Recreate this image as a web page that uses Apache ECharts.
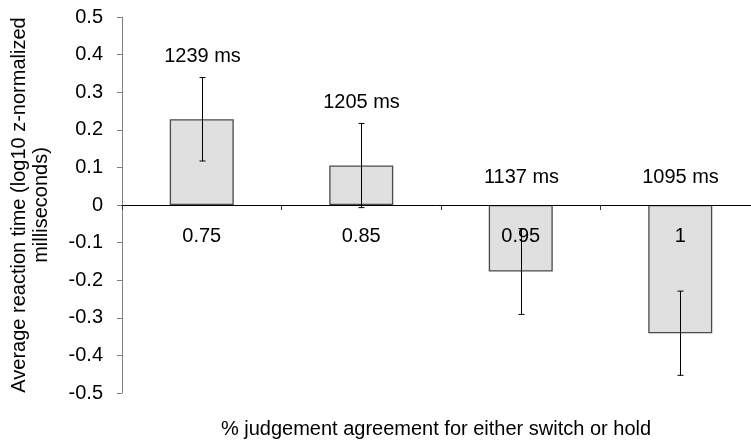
<!DOCTYPE html>
<html>
<head>
<meta charset="utf-8">
<script src="https://cdn.jsdelivr.net/npm/echarts@6/dist/echarts.min.js"></script>
<style>
html,body{margin:0;padding:0;background:#fff;}
#chart{width:751px;height:448px;}
</style>
</head>
<body>
<div id="chart"></div>
<script>
const categories = ['0.75', '0.85', '0.95', '1'];
const meanValues = [0.228, 0.105, -0.177, -0.341];
const errValues = [0.111, 0.112, 0.114, 0.112];
const msLabels = ['1239 ms', '1205 ms', '1137 ms', '1095 ms'];
const yAxisTitle = 'Average reaction time (log10 z-normalized\nmilliseconds)';
const xAxisTitle = '% judgement agreement for either switch or hold';

const FONT = '"Liberation Sans", Arial, sans-serif';
const FS = 20;

const chart = echarts.init(document.getElementById('chart'), null, {renderer: 'canvas'});

const errData = categories.map((c, i) => [i, meanValues[i], errValues[i]]);

const option = {
  animation: false,
  backgroundColor: '#fff',
  textStyle: {fontFamily: FONT},
  grid: {left: 122, right: -9, top: 17, bottom: 55, outerBoundsMode: 'none', containLabel: false},
  xAxis: {
    type: 'category',
    data: categories,
    z: 3,
    axisLine: {onZero: true, lineStyle: {color: '#000', width: 1}},
    axisTick: {show: true, interval: 0, length: 5, lineStyle: {color: '#333'}},
    axisLabel: {show: false},
    splitLine: {show: false}
  },
  yAxis: {
    type: 'value',
    min: -0.5,
    max: 0.5,
    interval: 0.1,
    name: yAxisTitle,
    nameLocation: 'middle',
    nameRotate: 90,
    nameGap: 70,
    nameTextStyle: {fontSize: FS, color: '#000', fontFamily: FONT, lineHeight: 22, align: 'center'},
    axisLine: {show: true, lineStyle: {color: '#808080', width: 1}},
    axisTick: {show: true, length: 5, lineStyle: {color: '#808080'}},
    axisLabel: {
      fontSize: FS, color: '#000', fontFamily: FONT, margin: 19,
      formatter: v => { const r = Math.round(v * 10) / 10; return r === 0 ? '0' : r.toFixed(1); }
    },
    splitLine: {show: false}
  },
  series: [
    {
      type: 'bar',
      data: meanValues,
      barWidth: 64,
      z: 2,
      itemStyle: {color: '#e0e0e0', borderColor: '#4a4a4a', borderWidth: 1.3}
    },
    {
      type: 'custom',
      z: 5,
      data: errData,
      renderItem: function (params, api) {
        const idx = api.value(0);
        const mean = api.value(1);
        const err = api.value(2);
        const top = api.coord([idx, mean + err]);
        const bot = api.coord([idx, mean - err]);
        const zero = api.coord([idx, 0]);
        const x = Math.round(top[0]) + 0.5;
        const cap = 3;
        const labelY = mean > 0 ? top[1] - 21 : zero[1] - 28;
        const ls = {stroke: '#000', lineWidth: 1};
        const tf = FS + 'px ' + FONT;
        return {
          type: 'group',
          children: [
            {type: 'text', x: zero[0], y: zero[1] + 31, style: {
              text: categories[params.dataIndex], fill: '#000', font: tf,
              align: 'center', verticalAlign: 'middle'
            }},
            {type: 'line', shape: {x1: x, y1: top[1], x2: x, y2: bot[1]}, style: ls},
            {type: 'line', shape: {x1: x - cap, y1: top[1], x2: x + cap, y2: top[1]}, style: ls},
            {type: 'line', shape: {x1: x - cap, y1: bot[1], x2: x + cap, y2: bot[1]}, style: ls},
            {type: 'text', x: x, y: labelY, style: {
              text: msLabels[params.dataIndex], fill: '#000', font: tf,
              align: 'center', verticalAlign: 'middle'
            }}
          ]
        };
      }
    }
  ],
  graphic: [
    {type: 'text', x: 436, y: 419, style: {
      text: xAxisTitle, fill: '#000', font: FS + 'px ' + FONT, align: 'center', verticalAlign: 'top'
    }}
  ]
};
chart.setOption(option);
</script>
</body>
</html>
